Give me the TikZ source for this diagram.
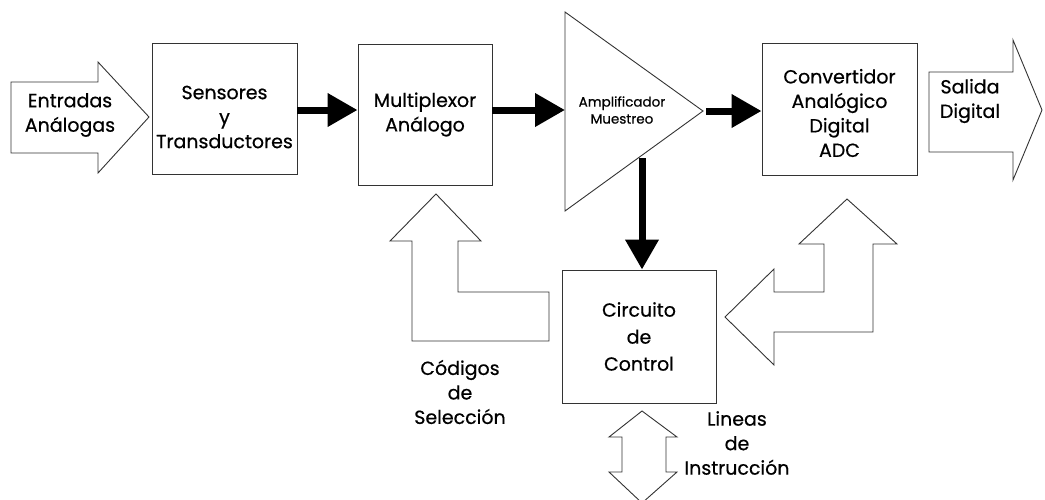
\documentclass[tikz,border=0pt]{standalone}
\usepackage{fontspec}
\setmainfont{Poppins}[FakeBold=0.6]
\usetikzlibrary{arrows.meta}
\begin{document}
\begin{tikzpicture}[x=1pt,y=-1pt,
  outline/.style={draw=black!80, line width=0.9pt, line join=miter},
  box/.style={outline, rectangle, inner sep=0pt, align=center,
    font=\fontsize{19}{24.5}\selectfont},
  txt/.style={align=center, inner sep=0pt, font=\fontsize{19}{24.5}\selectfont},
  small/.style={align=center, inner sep=0pt, font=\fontsize{13.5}{17}\selectfont},
  flow/.style={line width=7pt, -{Triangle[length=30pt,width=32pt]}}
]
\useasboundingbox (0,0) rectangle (1045,499);
\clip (0,0) rectangle (1045,499);

% processing blocks
\node[box, minimum width=145pt, minimum height=131pt] (sens) at (224.5,108.5) {};
\node[txt] (sensTxt) at (224.5,117) {Sensores\\y\\Transductores};
\node[box, minimum width=134pt, minimum height=141pt] (mux) at (425,114.5)
  {Multiplexor\\Análogo};
\node[box, minimum width=155pt, minimum height=132pt] (adc) at (839.5,109) {};
\node[txt] (adcTxt) at (839.5,113) {Convertidor\\Analógico\\Digital\\ADC};
\node[box, minimum width=154pt, minimum height=133pt,
  font=\fontsize{19}{27}\selectfont] (ctrl) at (639,336.5)
  {Circuito\\de\\Control};

% sample-and-hold amplifier
\coordinate (ampT) at (565,12);
\coordinate (ampB) at (565,211);
\coordinate (ampO) at (703,111);
\coordinate (ampIn) at (565,110);
\coordinate (ampDown) at (642,158);
\draw[outline] (ampT) -- (ampO) -- (ampB) -- cycle;
\node[small] (amp) at (622,110) {Amplificador\\Muestreo};

% signal flow
\draw[flow] (sens.east |- 0,110) -- (mux.west |- 0,110);
\draw[flow] (mux.east |- 0,110) -- (ampIn);
\draw[flow] (ampO) ++(3,0) coordinate (ampOut) (ampOut) -- (adc.west |- ampOut);
\draw[flow] (ampDown) -- (ctrl.north -| ampDown);

% analog input
\draw[outline] (11,82) -- (98,82) -- (98,62) -- (149,117) -- (98,173)
  -- (98,153) -- (11,153) -- cycle;
\node[txt] (inTxt) at (70,115) {Entradas\\Análogas};

% digital output
\draw[outline] (929,72) -- (1013,72) -- (1013,40) -- (1042,110) -- (1013,180)
  -- (1013,152) -- (929,152) -- cycle;
\node[txt] (outTxt) at (970,101) {Salida\\Digital};

% selection codes from control to multiplexer
\draw[outline] (412,341) -- (412,241) -- (390,241) -- (436,194) -- (481,241)
  -- (458,241) -- (458,292) -- (549,292) -- (549,341) -- cycle;
\node[txt] (selTxt) at (460,392) {Códigos\\de\\Selección};

% control lines to the converter
\draw[outline] (873,332) -- (873,244) -- (897,244) -- (847,199) -- (799,244)
  -- (824,244) -- (824,292) -- (774,292) -- (774,269) -- (725,317)
  -- (774,365) -- (774,332) -- cycle;

% instruction lines
\draw[outline] (642,411) -- (677,437) -- (666,437) -- (666,472) -- (677,472)
  -- (642,503) -- (609,472) -- (622,472) -- (622,437) -- (609,437) -- cycle;
\node[txt] (insTxt) at (737,443) {Lineas\\de\\Instrucción};
\end{tikzpicture}
\end{document}
